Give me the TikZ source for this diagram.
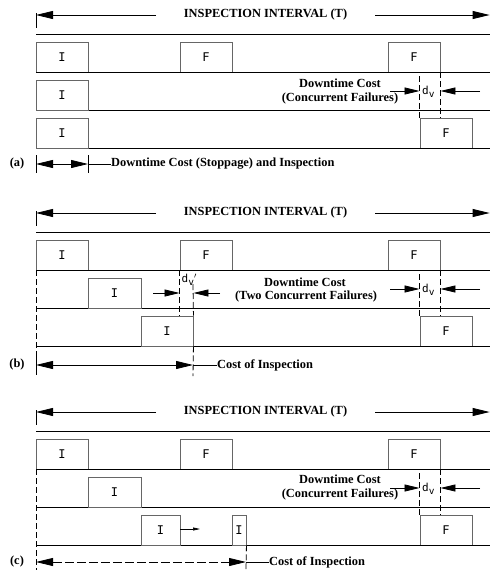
\documentclass[tikz,border=0pt]{standalone}
\usepackage{fontspec}
\setmainfont{Liberation Serif}
\newfontfamily\lblfont{DejaVu Sans Mono}
\usetikzlibrary{arrows.meta}
\tikzset{
  base/.style={line width=0.8pt, black},
  boxn/.style={draw=black!60, line width=0.9pt, inner sep=0pt, minimum height=30pt,
     font=\lblfont\fontsize{12}{12}\selectfont},
  txt/.style={font=\bfseries\fontsize{12.4}{13}\selectfont, inner sep=0pt},
  bigtip/.style={line width=0.8pt, -{Triangle[length=17pt,width=8pt]}},
  midtip/.style={line width=0.8pt, -{Triangle[length=15pt,width=7pt]}},
  dbltip/.style={line width=0.8pt, {Triangle[length=17pt,width=8pt]}-{Triangle[length=17pt,width=8pt]}},
  smalltip/.style={line width=0.7pt, -{Triangle[length=7pt,width=3pt]}},
  dashv/.style={line width=0.8pt, dash pattern=on 6pt off 3pt},
  dvlab/.style={inner sep=0pt, font=\lblfont\fontsize{11}{11}\selectfont}
}
\newcommand\dvtext{d\raisebox{-3pt}{\fontsize{9.5}{9.5}\selectfont v}}
\newcommand\panelcommon[1]{%
  \coordinate (#1tt) at (36,13); \coordinate (#1tb) at (36,28);
  \draw[base] (#1tt) -- (#1tb);
  \node[txt] (#1title) at (265.5,15) {INSPECTION INTERVAL (T)};
  \coordinate (#1la) at (156,15); \coordinate (#1lb) at (36,15);
  \coordinate (#1ra) at (375,15); \coordinate (#1rb) at (489.6,15);
  \draw[bigtip] (#1la) -- (#1lb);
  \draw[bigtip] (#1ra) -- (#1rb);
  % boxes of row 1 and row 3 failure
  \node[boxn, minimum width=52pt] (#1i1) at (62,57) {I};
  \node[boxn, minimum width=52pt] (#1f1) at (206,57) {F};
  \node[boxn, minimum width=52pt] (#1f2) at (414,57) {F};
  \node[boxn, minimum width=52pt] (#1f3) at (446,133) {F};
  % lines
  \coordinate (#1h0a) at (36,34); \coordinate (#1h0b) at (490,34);
  \coordinate (#1h1a) at (36,72); \coordinate (#1h1b) at (490,72);
  \coordinate (#1h2a) at (36,110); \coordinate (#1h2b) at (490,110);
  \coordinate (#1h3a) at (36,148); \coordinate (#1h3b) at (490,148);
  \draw[base] (#1h0a) -- (#1h0b);
  \draw[base] (#1h1a) -- (#1h1b);
  \draw[base] (#1h2a) -- (#1h2b);
  \draw[base] (#1h3a) -- (#1h3b);
  % concurrent failure window
  \draw[dashv] (#1f3.north west) -- (#1f3.north west |- #1f2.south);
  \draw[dashv] (#1f2.south east) -- (#1f2.south east |- #1f3.north);
  \node[dvlab, anchor=west] (#1dv) at (422,92) {\dvtext};
  \coordinate (#1da) at (390,91); \coordinate (#1db) at (480,91);
  \draw[midtip] (#1da) -- (#1f3.north west |- #1da);
  \draw[midtip] (#1db) -- (#1f2.south east |- #1db);
}
\begin{document}
\begin{tikzpicture}[x=1pt,y=-1pt]
\useasboundingbox (0,0) rectangle (490,571);

% ---------------- (a)
\begin{scope}
\panelcommon{a}
\node[boxn, minimum width=52pt] (ai2) at (62,95) {I};
\node[boxn, minimum width=52pt] (ai3) at (62,133) {I};
\node[txt] (adt1) at (340,83) {Downtime Cost};
\node[txt] (adt2) at (340,99) {(Concurrent Failures)};
\node[txt] (alab) at (17,164) {(a)};
\coordinate (at1a) at (36,155); \coordinate (at1b) at (36,173);
\coordinate (at2a) at (88,155); \coordinate (at2b) at (88,173);
\draw[base] (at1a) -- (at1b);
\draw[base] (at2a) -- (at2b);
\coordinate (aba) at (36,164); \coordinate (abb) at (88,164);
\draw[dbltip] (aba) -- (abb);
\node[txt, anchor=west] (acost) at (111,164) {Downtime Cost (Stoppage) and Inspection};
\draw[base] (abb) -- (acost.west);
\end{scope}

% ---------------- (b)
\begin{scope}[yshift=-198pt]
\panelcommon{b}
\node[boxn, minimum width=53pt] (bi2) at (114.5,95) {I};
\node[boxn, minimum width=52pt] (bi3) at (167,133) {I};
\node[txt] (bdt1) at (305,84) {Downtime Cost};
\node[txt] (bdt2) at (306,99) {(Two Concurrent Failures)};
\coordinate (bl1) at (36,72); \coordinate (bl2) at (36,178);
\draw[dashv] (bl1) -- (bl2);
\draw[dashv] (bf1.south west) -- (bf1.south west |- bi3.north);
\coordinate (bv1) at (193,86);
\draw[dashv] (bv1) -- (bi3.north east);
\coordinate (bv2) at (193,178);
\draw[dashv] (bi3.south east) -- (bv2);
\node[dvlab, anchor=west] (bdv) at (181.5,82) {\dvtext$'$};
\coordinate (bda) at (153,95); \coordinate (bdb) at (220,95);
\draw[midtip] (bda) -- (bf1.south west |- bda);
\draw[midtip] (bdb) -- (bi3.north east |- bdb);
\node[txt] (blab) at (17,167) {(b)};
\coordinate (bt1a) at (36,158); \coordinate (bt1b) at (36,176);
\draw[base] (bt1a) -- (bt1b);
\coordinate (bba) at (36,167); \coordinate (bbb) at (193,167);
\draw[dbltip] (bba) -- (bbb);
\node[txt, anchor=west] (bcost) at (217,167) {Cost of Inspection};
\draw[base] (bbb) -- (bcost.west);
\end{scope}

% ---------------- (c)
\begin{scope}[yshift=-397pt]
\panelcommon{c}
\node[boxn, minimum width=53pt] (ci2) at (114.5,95) {I};
\node[boxn, minimum width=39pt] (ci3) at (160.5,133) {I};
\node[boxn, minimum width=14pt] (ci4) at (239,133) {I};
\coordinate (csa) at (180,132); \coordinate (csb) at (200,132);
\draw[smalltip] (csa) -- (csb);
\node[txt] (cdt1) at (340,82) {Downtime Cost};
\node[txt] (cdt2) at (340,98) {(Concurrent Failures)};
\coordinate (cl1) at (36,72); \coordinate (cl2) at (36,173);
\draw[dashv] (cl1) -- (cl2);
\coordinate (cv2) at (246,172);
\draw[dashv] (ci4.south east) -- (cv2);
\node[txt] (clab) at (17,165) {(c)};
\coordinate (cba) at (36,165); \coordinate (cbb) at (246,165);
\draw[dbltip, dash pattern=on 9pt off 3pt] (cba) -- (cbb);
\node[txt, anchor=west] (ccost) at (269,165) {Cost of Inspection};
\draw[base] (cbb) -- (ccost.west);
\end{scope}
\end{tikzpicture}
\end{document}
